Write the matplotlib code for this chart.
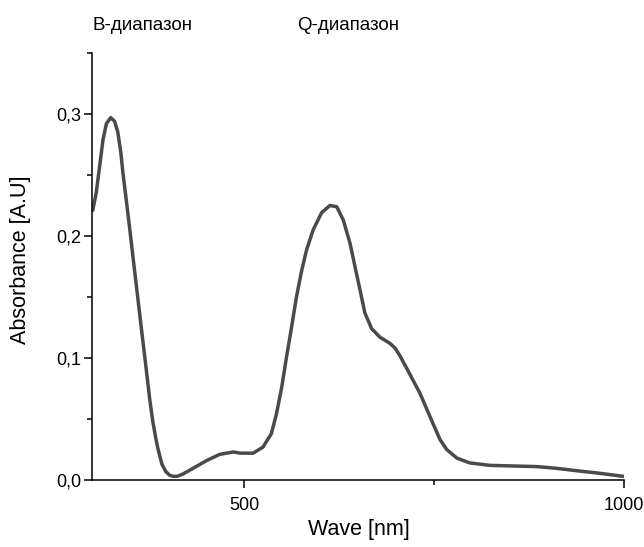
import matplotlib
matplotlib.use("Agg")
import matplotlib.pyplot as plt
from matplotlib.ticker import MultipleLocator, FuncFormatter

plt.rcParams['font.family'] = ['Liberation Sans', 'DejaVu Sans']

wavelength = [301, 305.7, 310, 314.5, 318.9, 324.6, 329.8, 334, 338, 341, 345, 350, 355, 360.5, 365, 370,
              376, 380, 384, 387, 392, 397, 402, 407, 412, 420, 433, 451, 468, 486, 495, 503.5, 512,
              525, 536, 543, 549.6, 556, 562.8, 569, 576, 582.5, 591, 602, 613, 622, 630.7, 639.5,
              646, 652.6, 659, 668, 679, 692, 699, 705, 718, 731.6, 744.7, 758, 766.7, 780, 797, 823.7,
              854, 885, 911, 937.7, 968, 999]
absorbance = [0.221, 0.236, 0.257, 0.279, 0.292, 0.297, 0.294, 0.285, 0.268, 0.250, 0.230, 0.204, 0.177, 0.148, 0.124, 0.098,
              0.066, 0.048, 0.034, 0.025, 0.013, 0.007, 0.004, 0.003, 0.003, 0.005, 0.0096, 0.016, 0.021, 0.023, 0.022, 0.022, 0.022,
              0.027, 0.038, 0.055, 0.076, 0.101, 0.126, 0.150, 0.172, 0.189, 0.205, 0.219, 0.225, 0.224, 0.213, 0.194,
              0.175, 0.156, 0.137, 0.124, 0.117, 0.112, 0.108, 0.102, 0.087, 0.071, 0.052, 0.033, 0.025, 0.018, 0.014, 0.012,
              0.0115, 0.011, 0.0096, 0.0076, 0.0055, 0.003]

band_labels = ["B-диапазон", "Q-диапазон"]
x_ticks = [500, 1000]
y_ticks = [0.0, 0.1, 0.2, 0.3]

fig = plt.figure(figsize=(6.44, 5.47), dpi=100)
ax = fig.add_axes([92/644, 1 - 480/547, 532/644, 427/547])
ax.plot(wavelength, absorbance, color='#4a4a4a', lw=2.5,
        solid_capstyle='round', solid_joinstyle='round')

ax.set_xlim(300, 1000)
ax.set_ylim(0, 0.35)
ax.spines['top'].set_visible(False)
ax.spines['right'].set_visible(False)
for s in ['left', 'bottom']:
    ax.spines[s].set_linewidth(1.1)
ax.set_xticks(x_ticks)
ax.xaxis.set_minor_locator(MultipleLocator(250))
ax.set_yticks(y_ticks)
ax.yaxis.set_minor_locator(MultipleLocator(0.05))
ax.yaxis.set_major_formatter(FuncFormatter(lambda v, p: f"{v:.1f}".replace('.', ',')))
ax.tick_params(which='major', length=6, width=1.1, labelsize=13, direction='out')
ax.tick_params(axis='y', which='major', pad=2)
ax.tick_params(axis='x', which='major', pad=6)
ax.tick_params(which='minor', length=3.6, width=1.1, direction='out')

fig.text(359/644, 1 - 530/547, "Wave [nm]", fontsize=15.5, ha='center', va='center')
fig.text(21/644, 1 - 260/547, "Absorbance [A.U]", fontsize=15.5, ha='center', va='center', rotation=90)

fig.text(142/644, 1 - 26/547, band_labels[0], fontsize=13.5, ha='center', va='center')
fig.text(348/644, 1 - 26/547, band_labels[1], fontsize=13.5, ha='center', va='center')

fig.savefig("out.png", dpi=100)
